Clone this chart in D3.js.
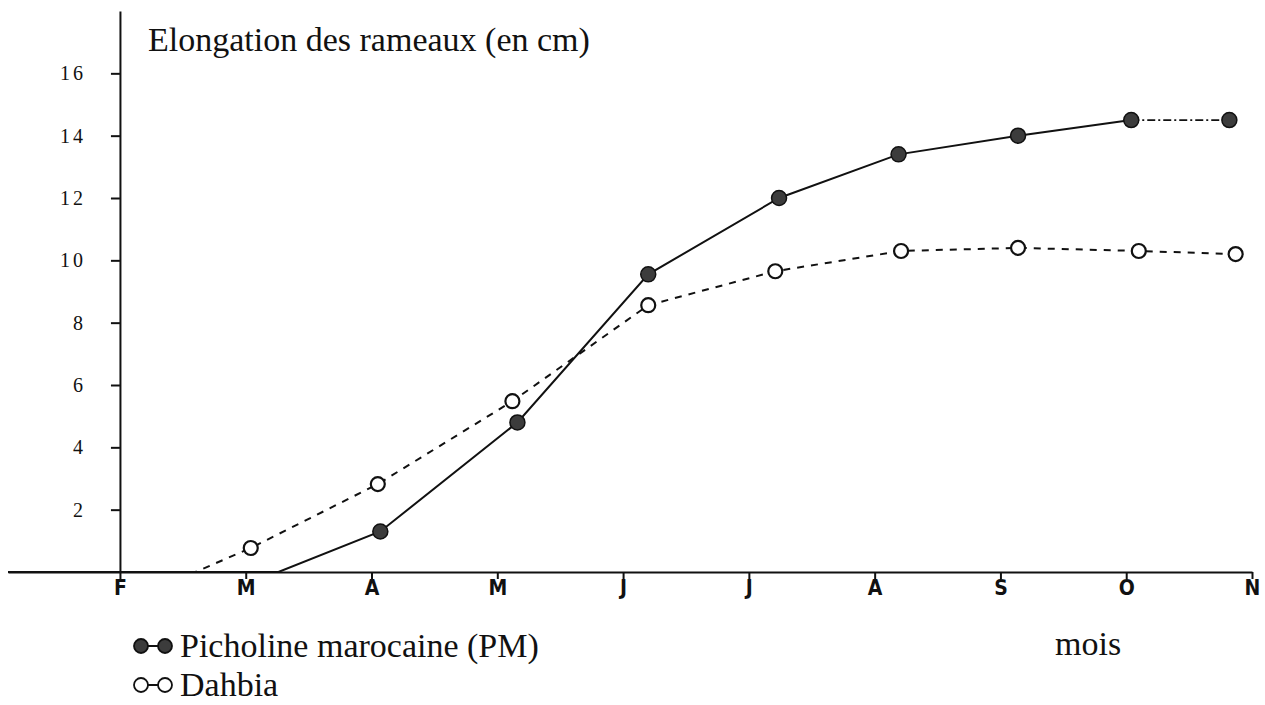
<!DOCTYPE html>
<html lang="fr">
<head>
<meta charset="utf-8">
<script src="https://d3js.org/d3.v7.min.js"></script>
<style>
  body { margin: 0; padding: 0; background: #fff; }
  svg { display: block; }
  .axis path, .axis line { stroke: #111; stroke-width: 2; }
  .big { font-family: "Liberation Serif", "Times New Roman", serif; font-size: 34px; fill: #111; }
</style>
</head>
<body>
<svg id="chart" width="1265" height="705"></svg>
<script>
// months on the x axis (F = february ... N = november)
const months = ['F', 'M', 'A', 'M', 'J', 'J', 'A', 'S', 'O', 'N'];
const yTicks = [2, 4, 6, 8, 10, 12, 14, 16];

// measure dates as months after february, elongation in cm
const pmMonth = [-0.89, 1.26, 2.07, 3.16, 4.20, 5.24, 6.19, 7.14, 8.04, 8.82];
const pmCm    = [0, 0, 1.3, 4.8, 9.55, 12.0, 13.4, 14.0, 14.5, 14.5];
const dahMonth = [-0.89, 0.6, 1.04, 2.05, 3.12, 4.20, 5.21, 6.21, 7.14, 8.10, 8.87];
const dahCm    = [0, 0, 0.77, 2.82, 5.48, 8.56, 9.65, 10.3, 10.4, 10.3, 10.2];

const svg = d3.select('#chart');
const x = d3.scaleLinear().domain([-0.89, 9]).range([8, 1252]);
const y = d3.scaleLinear().domain([0, 18]).range([572, 11]);

const pm = pmMonth.map((m, i) => [m, pmCm[i]]);
const dah = dahMonth.map((m, i) => [m, dahCm[i]]);
const line = d3.line().x(d => x(d[0])).y(d => y(d[1]));

// x axis
const xAxis = svg.append('g')
    .attr('class', 'axis')
    .attr('transform', 'translate(0,' + y(0) + ')')
    .call(d3.axisBottom(x)
        .tickValues(d3.range(months.length))
        .tickFormat(i => months[i])
        .tickSize(7)
        .tickSizeOuter(0));
xAxis.selectAll('text')
    .attr('y', 8).attr('dy', '0.71em')
    .style('font-family', '"DejaVu Sans Condensed", "Liberation Sans", Arial, sans-serif')
    .style('font-weight', 'bold').style('font-size', '21px').style('fill', '#111');

// y axis
const yAxis = svg.append('g')
    .attr('class', 'axis')
    .attr('transform', 'translate(' + x(0) + ',0)')
    .call(d3.axisLeft(y)
        .tickValues(yTicks)
        .tickSize(9)
        .tickSizeOuter(0));
yAxis.selectAll('text')
    .attr('x', -34)
    .style('font-family', '"Liberation Serif", "Times New Roman", serif')
    .style('font-size', '20px').style('letter-spacing', '3px').style('fill', '#111');

// series
svg.append('path').datum(dah)
    .attr('d', line)
    .attr('fill', 'none').attr('stroke', '#111')
    .attr('stroke-width', 2).attr('stroke-dasharray', '7,7');
svg.append('path').datum(pm.slice(0, -1))
    .attr('d', line)
    .attr('fill', 'none').attr('stroke', '#111')
    .attr('stroke-width', 2);
svg.append('path').datum(pm.slice(-2))
    .attr('d', line)
    .attr('fill', 'none').attr('stroke', '#111')
    .attr('stroke-width', 1.6).attr('stroke-dasharray', '8,3,2,3');

svg.selectAll('.dah').data(dah.slice(2)).enter().append('circle')
    .attr('class', 'dah')
    .attr('cx', d => x(d[0])).attr('cy', d => y(d[1])).attr('r', 7)
    .attr('fill', '#fff').attr('stroke', '#111').attr('stroke-width', 2.2);
svg.selectAll('.pm').data(pm.slice(2)).enter().append('circle')
    .attr('class', 'pm')
    .attr('cx', d => x(d[0])).attr('cy', d => y(d[1])).attr('r', 7.5)
    .attr('fill', '#3c3c3c').attr('stroke', '#111').attr('stroke-width', 1.5);

// titles
svg.append('text').attr('class', 'big')
    .attr('x', 148).attr('y', 51)
    .text('Elongation des rameaux (en cm)');
svg.append('text').attr('class', 'big')
    .attr('x', 1055).attr('y', 655)
    .text('mois');

// legend
const legend = [
    { label: 'Picholine marocaine (PM)', fill: '#3c3c3c', y: 646 },
    { label: 'Dahbia', fill: '#fff', y: 685 }
];
legend.forEach(l => {
    svg.append('line')
        .attr('x1', 141).attr('x2', 165).attr('y1', l.y).attr('y2', l.y)
        .attr('stroke', '#111').attr('stroke-width', 2);
    [141, 165].forEach(cx => svg.append('circle')
        .attr('cx', cx).attr('cy', l.y).attr('r', 7)
        .attr('fill', l.fill).attr('stroke', '#111').attr('stroke-width', 1.8));
    svg.append('text').attr('class', 'big')
        .attr('x', 180).attr('y', l.y + 11)
        .text(l.label);
});
</script>
</body>
</html>
